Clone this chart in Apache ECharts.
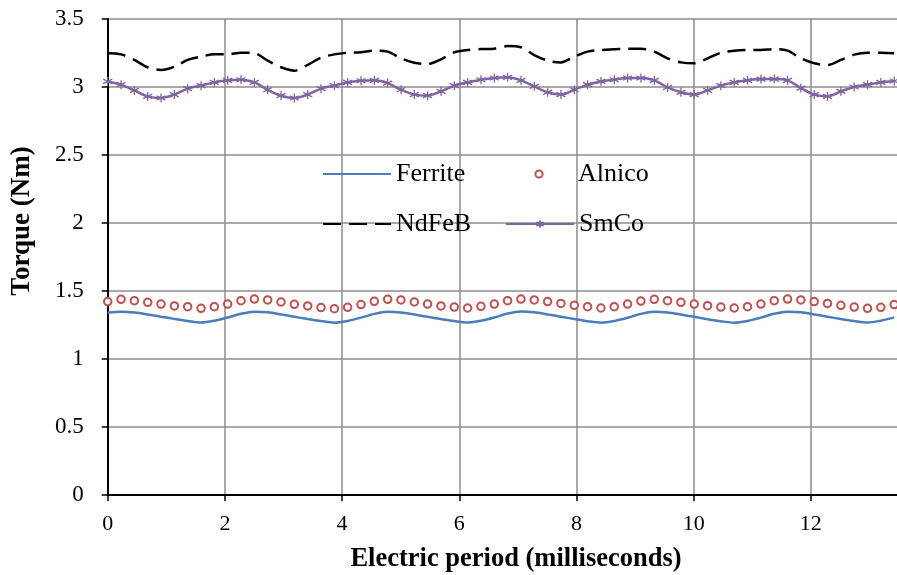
<!DOCTYPE html>
<html>
<head>
<meta charset="utf-8">
<script src="https://cdn.jsdelivr.net/npm/echarts@6/dist/echarts.min.js"></script>
<style>html,body{margin:0;padding:0;background:#fff;overflow:hidden}#c{width:897px;height:575px}</style>
</head>
<body>
<div id="c"></div>
<script>
// Sample times (ms)
const timeMs = [0, 0.228, 0.455, 0.683, 0.910, 1.138, 1.365, 1.593, 1.820, 2.048,
  2.275, 2.503, 2.730, 2.958, 3.185, 3.413, 3.640, 3.868, 4.095, 4.323,
  4.550, 4.778, 5.005, 5.233, 5.460, 5.688, 5.915, 6.143, 6.370, 6.598,
  6.825, 7.053, 7.280, 7.508, 7.735, 7.963, 8.190, 8.418, 8.645, 8.873,
  9.100, 9.328, 9.555, 9.783, 10.010, 10.238, 10.465, 10.693, 10.920, 11.148,
  11.375, 11.603, 11.830, 12.058, 12.285, 12.513, 12.740, 12.968, 13.195, 13.423];

const ferrite = [1.340, 1.347, 1.342, 1.328, 1.311, 1.295, 1.280, 1.268, 1.281, 1.305,
  1.333, 1.348, 1.343, 1.328, 1.311, 1.294, 1.279, 1.267, 1.280, 1.304,
  1.332, 1.347, 1.342, 1.327, 1.310, 1.294, 1.279, 1.268, 1.281, 1.305,
  1.334, 1.349, 1.343, 1.328, 1.311, 1.294, 1.278, 1.267, 1.279, 1.303,
  1.332, 1.347, 1.342, 1.327, 1.310, 1.293, 1.278, 1.267, 1.280, 1.304,
  1.333, 1.348, 1.343, 1.328, 1.311, 1.294, 1.279, 1.268, 1.282, 1.306];

const alnico = [1.422, 1.439, 1.429, 1.417, 1.404, 1.390, 1.385, 1.373, 1.385, 1.404,
  1.429, 1.441, 1.434, 1.419, 1.402, 1.390, 1.378, 1.370, 1.380, 1.400,
  1.424, 1.439, 1.434, 1.419, 1.404, 1.390, 1.382, 1.375, 1.387, 1.404,
  1.429, 1.441, 1.434, 1.422, 1.409, 1.395, 1.385, 1.375, 1.385, 1.404,
  1.426, 1.439, 1.429, 1.417, 1.404, 1.392, 1.382, 1.375, 1.385, 1.404,
  1.429, 1.441, 1.434, 1.422, 1.409, 1.395, 1.382, 1.373, 1.380, 1.400];

const ndfeb = [3.248, 3.240, 3.199, 3.145, 3.125, 3.149, 3.199, 3.223, 3.240, 3.240,
  3.252, 3.248, 3.194, 3.145, 3.120, 3.162, 3.216, 3.240, 3.252, 3.255,
  3.267, 3.260, 3.211, 3.179, 3.169, 3.203, 3.255, 3.272, 3.279, 3.282,
  3.301, 3.292, 3.235, 3.194, 3.181, 3.223, 3.260, 3.272, 3.277, 3.282,
  3.282, 3.260, 3.211, 3.181, 3.174, 3.211, 3.252, 3.267, 3.272, 3.272,
  3.279, 3.267, 3.211, 3.174, 3.162, 3.199, 3.238, 3.252, 3.252, 3.248];

const smco = [3.041, 3.017, 2.975, 2.931, 2.919, 2.944, 2.988, 3.010, 3.034, 3.049,
  3.053, 3.034, 2.980, 2.936, 2.919, 2.944, 2.988, 3.010, 3.034, 3.046,
  3.049, 3.029, 2.980, 2.944, 2.936, 2.968, 3.010, 3.034, 3.053, 3.066,
  3.071, 3.049, 3.005, 2.961, 2.944, 2.980, 3.017, 3.041, 3.053, 3.066,
  3.066, 3.049, 2.997, 2.961, 2.944, 2.975, 3.010, 3.034, 3.049, 3.058,
  3.058, 3.049, 2.992, 2.944, 2.931, 2.968, 3.000, 3.017, 3.034, 3.044];

const seriesNames = ['Ferrite', 'Alnico', 'NdFeB', 'SmCo'];
const xTitle = 'Electric period (milliseconds)';
const yTitle = 'Torque (Nm)';

function pairs(vals) { return vals.map((v, i) => [timeMs[i], v]); }

const FONT = '"Liberation Serif", "Times New Roman", serif';
const starPath = 'path://M5,0L5,10M0.67,2.5L9.33,7.5M0.67,7.5L9.33,2.5';

const chart = echarts.init(document.getElementById('c'), null, {renderer: 'canvas'});

function legendAt(name, left, top, hideSymbol) {
  const l = {
    data: [name], left: left, top: top, padding: 0,
    itemWidth: 68, itemHeight: 9, itemGap: 0,
    textStyle: {fontFamily: FONT, fontSize: 26, color: '#000'},
    selectedMode: false
  };
  if (hideSymbol) l.itemStyle = {opacity: 0};
  return l;
}

chart.setOption({
  animation: false,
  backgroundColor: '#fff',
  grid: {left: 107.7, top: 19, right: -31, bottom: 80, containLabel: false, outerBoundsMode: 'none'},
  legend: [
    legendAt('Ferrite', 322, 161, true),
    legendAt('Alnico', 505, 161, false),
    legendAt('NdFeB', 322, 211, true),
    legendAt('SmCo', 505, 211, false)
  ],
  xAxis: [{
    type: 'value', min: 0, max: 14, interval: 2,
    axisLine: {show: true, onZero: false, lineStyle: {color: '#000', width: 2}},
    axisTick: {show: true, length: 6, lineStyle: {color: '#000', width: 1.5}},
    axisLabel: {fontFamily: FONT, fontSize: 22, color: '#000', margin: 18, showMaxLabel: false},
    splitLine: {show: true, lineStyle: {color: '#8c8c8c', width: 1.5}}
  }, {
    type: 'value', position: 'top', min: 0, max: 14,
    axisLine: {show: true, lineStyle: {color: '#000', width: 2}},
    axisTick: {show: false}, axisLabel: {show: false}, splitLine: {show: false}
  }],
  yAxis: {
    type: 'value', min: 0, max: 3.5, interval: 0.5,
    axisLine: {show: true, lineStyle: {color: '#000', width: 2}},
    axisTick: {show: true, length: 6, lineStyle: {color: '#000', width: 1.5}},
    axisLabel: {fontFamily: FONT, fontSize: 23, color: '#000', margin: 24},
    splitLine: {show: true, lineStyle: {color: '#8c8c8c', width: 1.5}}
  },
  graphic: [
    {type: 'text', x: 22, y: 221, rotation: Math.PI / 2,
     style: {text: yTitle, font: 'bold 27px ' + FONT, fill: '#000', textAlign: 'center', textVerticalAlign: 'middle'}},
    {type: 'text', x: 516, y: 559,
     style: {text: xTitle, font: 'bold 26.5px ' + FONT, fill: '#000', textAlign: 'center', textVerticalAlign: 'middle'}}
  ],
  series: [
    {name: seriesNames[0], type: 'line', data: pairs(ferrite), smooth: 0.3, showSymbol: false, symbol: 'none',
     lineStyle: {color: '#4a7ebb', width: 2.5}, itemStyle: {color: '#4a7ebb'}, z: 3},
    {name: seriesNames[1], type: 'line', data: pairs(alnico), symbol: 'emptyCircle', symbolSize: 7.5,
     lineStyle: {width: 0, opacity: 0}, itemStyle: {color: '#c0504d', borderColor: '#c0504d', borderWidth: 1.2}, z: 3},
    {name: seriesNames[2], type: 'line', data: pairs(ndfeb), smooth: 0.3, symbol: 'none',
     lineStyle: {color: '#000', width: 2.5, type: [18, 8]}, itemStyle: {color: '#000'}, z: 3},
    {name: seriesNames[3], type: 'line', data: pairs(smco), smooth: 0.3, symbol: starPath, symbolSize: 9,
     lineStyle: {color: '#8064a2', width: 2.5}, itemStyle: {color: '#8064a2', borderColor: '#8064a2', borderWidth: 1.3}, z: 3}
  ]
});
</script>
</body>
</html>
